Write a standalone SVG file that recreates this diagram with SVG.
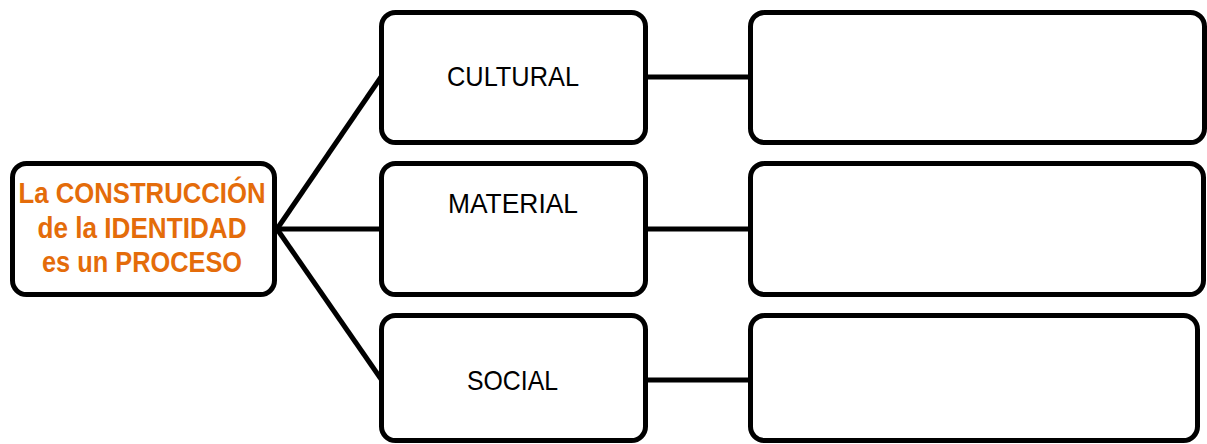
<svg xmlns="http://www.w3.org/2000/svg" width="1207" height="444" viewBox="0 0 1207 444">
<style>
.box{fill:#ffffff;stroke:#000000;stroke-width:5}
.conn{stroke:#000000;stroke-width:5;fill:none}
.lbl{font-family:"Liberation Sans",Arial,sans-serif;font-size:27.5px;fill:#000000;text-anchor:middle}
.main{font-family:"Liberation Sans",Arial,sans-serif;font-size:29px;font-weight:bold;fill:#E46C0A;text-anchor:middle}
</style>
<rect width="1207" height="444" fill="#ffffff"/>
<g id="connectors">
<path class="conn" d="M277,229 L381,77"/>
<path class="conn" d="M277,229 L381,229"/>
<path class="conn" d="M277,229 L381,379"/>
<path class="conn" d="M646,77 L750,77"/>
<path class="conn" d="M646,229 L750,229"/>
<path class="conn" d="M646,380 L750,380"/>
</g>
<g id="root">
<rect class="box" x="12.5" y="163.5" width="262" height="131" rx="14"/>
<text class="main" x="142" y="203" textLength="247" lengthAdjust="spacingAndGlyphs">La CONSTRUCCIÓN</text>
<text class="main" x="142" y="238" textLength="209" lengthAdjust="spacingAndGlyphs">de la IDENTIDAD</text>
<text class="main" x="142" y="272" textLength="200" lengthAdjust="spacingAndGlyphs">es un PROCESO</text>
</g>
<g id="cultural">
<rect class="box" x="381.5" y="12.5" width="264" height="130" rx="14"/>
<text class="lbl" x="513" y="86" textLength="132" lengthAdjust="spacingAndGlyphs">CULTURAL</text>
</g>
<g id="material">
<rect class="box" x="381.5" y="163.5" width="264" height="131" rx="14"/>
<text class="lbl" x="513" y="213" textLength="130" lengthAdjust="spacingAndGlyphs">MATERIAL</text>
</g>
<g id="social">
<rect class="box" x="381.5" y="315.5" width="264" height="125" rx="14"/>
<text class="lbl" x="512.5" y="390" textLength="91" lengthAdjust="spacingAndGlyphs">SOCIAL</text>
</g>
<g id="cultural-detail">
<rect class="box" x="750.5" y="12.5" width="454" height="130" rx="14"/>
</g>
<g id="material-detail">
<rect class="box" x="750.5" y="163.5" width="453" height="131" rx="14"/>
</g>
<g id="social-detail">
<rect class="box" x="750.5" y="315.5" width="447" height="125" rx="14"/>
</g>
</svg>
